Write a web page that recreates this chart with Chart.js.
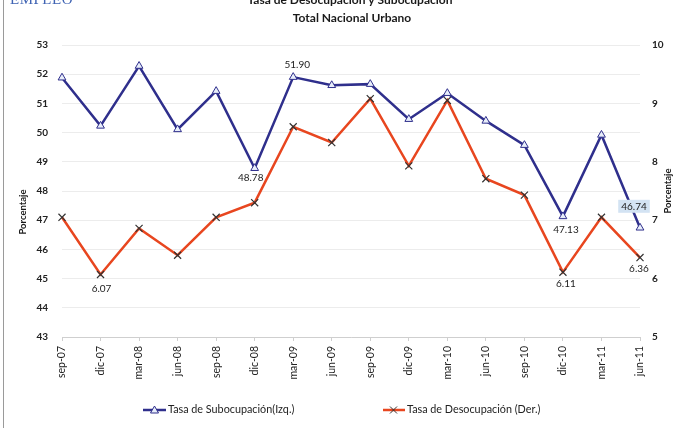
<!DOCTYPE html>
<html>
<head>
<meta charset="utf-8">
<script src="https://cdn.jsdelivr.net/npm/chart.js@4.4.1/dist/chart.umd.min.js"></script>
<style>
  html, body { margin:0; padding:0; background:#fff; }
  #wrap { position:relative; width:699px; height:428px; overflow:hidden; background:#fff; }
  #leftline { position:absolute; left:3px; top:0; width:1px; height:428px; background:#9a9a9a; }
  #empleo { position:absolute; left:10px; top:-9px; font-family:"Liberation Serif","DejaVu Serif",serif; font-size:15px; color:#3f63b3; letter-spacing:0.5px; }
  #c { position:absolute; left:0; top:0; }
</style>
</head>
<body>
<div id="wrap">
  <canvas id="c" width="699" height="428"></canvas>
  <div id="leftline"></div>
  <div id="empleo">EMPLEO</div>
</div>
<script>
const categories = ["sep-07","dic-07","mar-08","jun-08","sep-08","dic-08","mar-09","jun-09","sep-09","dic-09","mar-10","jun-10","sep-10","dic-10","mar-11","jun-11"];
const subocupacion = [51.88, 50.23, 52.28, 50.11, 51.42, 48.78, 51.90, 51.62, 51.66, 50.46, 51.35, 50.40, 49.57, 47.13, 49.92, 46.74];
const desocupacion = [7.05, 6.07, 6.86, 6.40, 7.05, 7.30, 8.60, 8.33, 9.08, 7.93, 9.05, 7.71, 7.43, 6.11, 7.05, 6.36];
const leftAxisRange = [43, 53];
const rightAxisRange = [5, 10];
const titleLines = ["Tasa de Desocupación y Subocupación", "Total Nacional Urbano"];
const axisTitle = "Porcentaje";
const seriesNames = ["Tasa de Subocupación(Izq.)", "Tasa de Desocupación (Der.)"];
// indices of labelled points
const subLabelIdx = [5, 6, 13, 15];
const desLabelIdx = [1, 13, 15];

const NAVY = "#2f2f8c";
const RED = "#e8461f";
const FONT = "Lato, 'Open Sans', sans-serif";

const labelOffsets = {
  sub: {5: [-4, 10], 6: [4, -12], 13: [3, 13], 15: [-6, -21]},
  des: {1: [1, 14], 13: [3, 12], 15: [-1, 11]}
};

const decor = {
  id: 'decor',
  afterDatasetsDraw(chart) {
    const ctx = chart.ctx;
    ctx.save();
    ctx.fillStyle = "#222";
    ctx.textAlign = "center";
    ctx.textBaseline = "middle";
    ctx.font = "10px " + FONT;
    const m0 = chart.getDatasetMeta(0), m1 = chart.getDatasetMeta(1);
    subLabelIdx.forEach(i => {
      const p = m0.data[i];
      const o = labelOffsets.sub[i];
      const txt = subocupacion[i].toFixed(2);
      const x = p.x + o[0], y = p.y + o[1];
      if (i === 15) {
        const w = ctx.measureText(txt).width + 6;
        ctx.fillStyle = "#d3e3f3";
        ctx.fillRect(x - w/2, y - 7, w, 13);
        ctx.fillStyle = "#222";
      }
      ctx.fillText(txt, x, y);
    });
    desLabelIdx.forEach(i => {
      const p = m1.data[i];
      const o = labelOffsets.des[i];
      ctx.fillText(desocupacion[i].toFixed(2), p.x + o[0], p.y + o[1]);
    });
    ctx.restore();
  },
  afterDraw(chart) {
    const ctx = chart.ctx;
    ctx.save();
    ctx.fillStyle = "#1a1a1a";
    ctx.textAlign = "center";
    ctx.textBaseline = "alphabetic";
    ctx.font = "bold 12px " + FONT;
    ctx.fillText(titleLines[0], 350, 4);
    ctx.fillText(titleLines[1], 352, 22);
    // axis titles
    ctx.font = "bold 9.5px " + FONT;
    ctx.textBaseline = "middle";
    ctx.save();
    ctx.translate(23, 212);
    ctx.rotate(-Math.PI/2);
    ctx.fillText(axisTitle, 0, 0);
    ctx.restore();
    ctx.save();
    ctx.translate(668, 191);
    ctx.rotate(-Math.PI/2);
    ctx.fillText(axisTitle, 0, 0);
    ctx.restore();
    // legend
    const ly = 410;
    ctx.lineWidth = 2.5;
    ctx.strokeStyle = NAVY;
    ctx.beginPath(); ctx.moveTo(143, ly); ctx.lineTo(166, ly); ctx.stroke();
    ctx.lineWidth = 1;
    ctx.fillStyle = "#e8eefa";
    ctx.beginPath(); ctx.moveTo(154.5, ly-4); ctx.lineTo(158.5, ly+3); ctx.lineTo(150.5, ly+3); ctx.closePath(); ctx.fill(); ctx.stroke();
    ctx.lineWidth = 2.5;
    ctx.strokeStyle = RED;
    ctx.beginPath(); ctx.moveTo(383, ly); ctx.lineTo(405, ly); ctx.stroke();
    ctx.lineWidth = 1;
    ctx.strokeStyle = "#333";
    ctx.beginPath(); ctx.moveTo(390, ly-3.5); ctx.lineTo(397, ly+3.5); ctx.moveTo(397, ly-3.5); ctx.lineTo(390, ly+3.5); ctx.stroke();
    ctx.fillStyle = "#222";
    ctx.textAlign = "left";
    ctx.font = "10.8px " + FONT;
    ctx.fillText(seriesNames[0], 168, ly);
    ctx.fillText(seriesNames[1], 407, ly);
    ctx.restore();
  }
};

new Chart(document.getElementById('c'), {
  type: 'line',
  data: {
    labels: categories,
    datasets: [
      {
        label: seriesNames[0],
        data: subocupacion,
        yAxisID: 'yL',
        borderColor: NAVY,
        borderWidth: 2.5,
        tension: 0,
        pointStyle: 'triangle',
        pointRadius: 4.5,
        pointBorderWidth: 1,
        pointBorderColor: NAVY,
        pointBackgroundColor: "#e8eefa"
      },
      {
        label: seriesNames[1],
        data: desocupacion,
        yAxisID: 'yR',
        borderColor: RED,
        borderWidth: 2.5,
        tension: 0,
        pointStyle: 'crossRot',
        pointRadius: 5,
        pointBorderWidth: 1.2,
        pointBorderColor: "#333",
        pointBackgroundColor: "#333"
      }
    ]
  },
  options: {
    responsive: false,
    animation: false,
    devicePixelRatio: 1,
    layout: { padding: { top: 45, left: 0, right: 0, bottom: 0 } },
    plugins: { legend: { display: false }, title: { display: false }, tooltip: { enabled: false } },
    scales: {
      x: {
        offset: false,
        afterFit(s) { s.height = 91; },
        grid: { drawOnChartArea: false, drawTicks: true, tickLength: 4, color: "#cfcfcf" },
        border: { display: true, color: "#cfcfcf" },
        ticks: { minRotation: 90, maxRotation: 90, autoSkip: false, padding: 5, color: "#222", font: { family: FONT, size: 10.5 } }
      },
      yL: {
        position: 'left',
        min: leftAxisRange[0], max: leftAxisRange[1],
        afterFit(s) { s.width = 62; },
        grid: { color: "#ececec", drawTicks: false },
        border: { display: false },
        ticks: { stepSize: 1, padding: 14, color: "#222", font: { family: FONT, size: 10, weight: 'bold' } }
      },
      yR: {
        position: 'right',
        min: rightAxisRange[0], max: rightAxisRange[1],
        afterFit(s) { s.width = 59; },
        grid: { display: false, drawTicks: false },
        border: { display: false },
        ticks: { stepSize: 1, padding: 12, color: "#222", font: { family: FONT, size: 10, weight: 'bold' } }
      }
    }
  },
  plugins: [decor]
});
</script>
</body>
</html>
